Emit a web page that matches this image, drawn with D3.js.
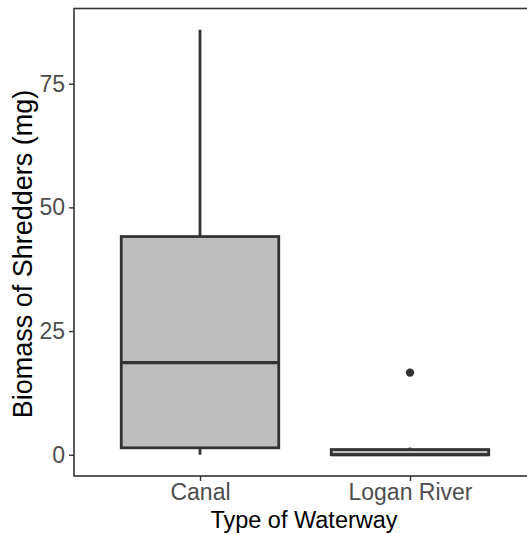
<!DOCTYPE html>
<html>
<head>
<meta charset="utf-8">
<script src="https://cdnjs.cloudflare.com/ajax/libs/d3/7.8.5/d3.min.js"></script>
<style>
  body { margin: 0; background: #fff; }
  svg { display: block; font-family: "Liberation Sans", Arial, sans-serif; }
</style>
</head>
<body>
<div id="chart"></div>
<script>
// data
var categories = ["Canal", "Logan River"];
var lowerWhisker = [0, 0];
var q1 = [1.4, 0];
var median = [18.6, 0];
var q3 = [44.1, 1.05];
var upperWhisker = [85.9, 1.45];
var outliers = [[], [16.6]];
var yTicks = [0, 25, 50, 75];

var width = 527, height = 534;
var margin = { top: 8.5, left: 74, bottom: 58 };
var panelRight = 536; // panel continues past the picture edge

var svg = d3.select("#chart").append("svg")
    .attr("width", width)
    .attr("height", height);

// discrete axis with ggplot's 0.6 expansion
var x = d3.scaleLinear()
    .domain([0.4, 2.6])
    .range([margin.left, panelRight]);

var y = d3.scaleLinear()
    .domain([-4.295, 90.195])
    .range([height - margin.bottom, margin.top]);

var boxW = 0.75;
var dark = "#333333";

var g = svg.append("g");

categories.forEach(function(c, i) {
  var cx = x(i + 1);
  var left = x(i + 1 - boxW / 2), right = x(i + 1 + boxW / 2);
  // whiskers
  g.append("line")
      .attr("x1", cx).attr("x2", cx)
      .attr("y1", y(q3[i])).attr("y2", y(upperWhisker[i]))
      .attr("stroke", dark).attr("stroke-width", 2.8);
  g.append("line")
      .attr("x1", cx).attr("x2", cx)
      .attr("y1", y(q1[i])).attr("y2", y(lowerWhisker[i]))
      .attr("stroke", dark).attr("stroke-width", 2.8);
  // box
  g.append("rect")
      .attr("x", left).attr("y", y(q3[i]))
      .attr("width", right - left)
      .attr("height", y(q1[i]) - y(q3[i]))
      .attr("fill", "#bebebe")
      .attr("stroke", dark).attr("stroke-width", 2.8);
  // median
  g.append("line")
      .attr("x1", left).attr("x2", right)
      .attr("y1", y(median[i])).attr("y2", y(median[i]))
      .attr("stroke", dark).attr("stroke-width", 3.2);
  // outliers
  outliers[i].forEach(function(v) {
    g.append("circle")
        .attr("cx", cx).attr("cy", y(v))
        .attr("r", 4.2)
        .attr("fill", dark);
  });
});

// panel border
svg.append("rect")
    .attr("x", margin.left).attr("y", margin.top)
    .attr("width", panelRight - margin.left)
    .attr("height", y.range()[0] - margin.top)
    .attr("fill", "none")
    .attr("stroke", dark)
    .attr("stroke-width", 1.6);

// y axis
var yAxis = svg.append("g")
    .attr("transform", "translate(" + margin.left + ",0)")
    .call(d3.axisLeft(y).tickValues(yTicks).tickSize(5).tickPadding(4).tickFormat(d3.format("d")));
yAxis.select(".domain").remove();
yAxis.selectAll("line").attr("stroke", dark).attr("stroke-width", 1.4);
yAxis.selectAll("text")
    .attr("fill", "#4d4d4d")
    .style("font-size", "23px")
    .style("font-family", "'Liberation Sans', Arial, sans-serif");

// x axis
var xAxis = svg.append("g")
    .attr("transform", "translate(0," + y.range()[0] + ")")
    .call(d3.axisBottom(x).tickValues([1, 2]).tickSize(5).tickPadding(3)
      .tickFormat(function(d) { return categories[d - 1]; }));
xAxis.select(".domain").remove();
xAxis.selectAll("line").attr("stroke", dark).attr("stroke-width", 1.4);
xAxis.selectAll("text")
    .attr("fill", "#4d4d4d")
    .style("font-size", "23px")
    .style("font-family", "'Liberation Sans', Arial, sans-serif");

// axis titles
svg.append("text")
    .attr("x", 304)
    .attr("y", 528)
    .attr("text-anchor", "middle")
    .style("font-size", "23.5px")
    .attr("fill", "#000")
    .text("Type of Waterway");

svg.append("text")
    .attr("transform", "translate(32,254) rotate(-90)")
    .attr("text-anchor", "middle")
    .style("font-size", "27px")
    .attr("fill", "#000")
    .text("Biomass of Shredders (mg)");
</script>
</body>
</html>
